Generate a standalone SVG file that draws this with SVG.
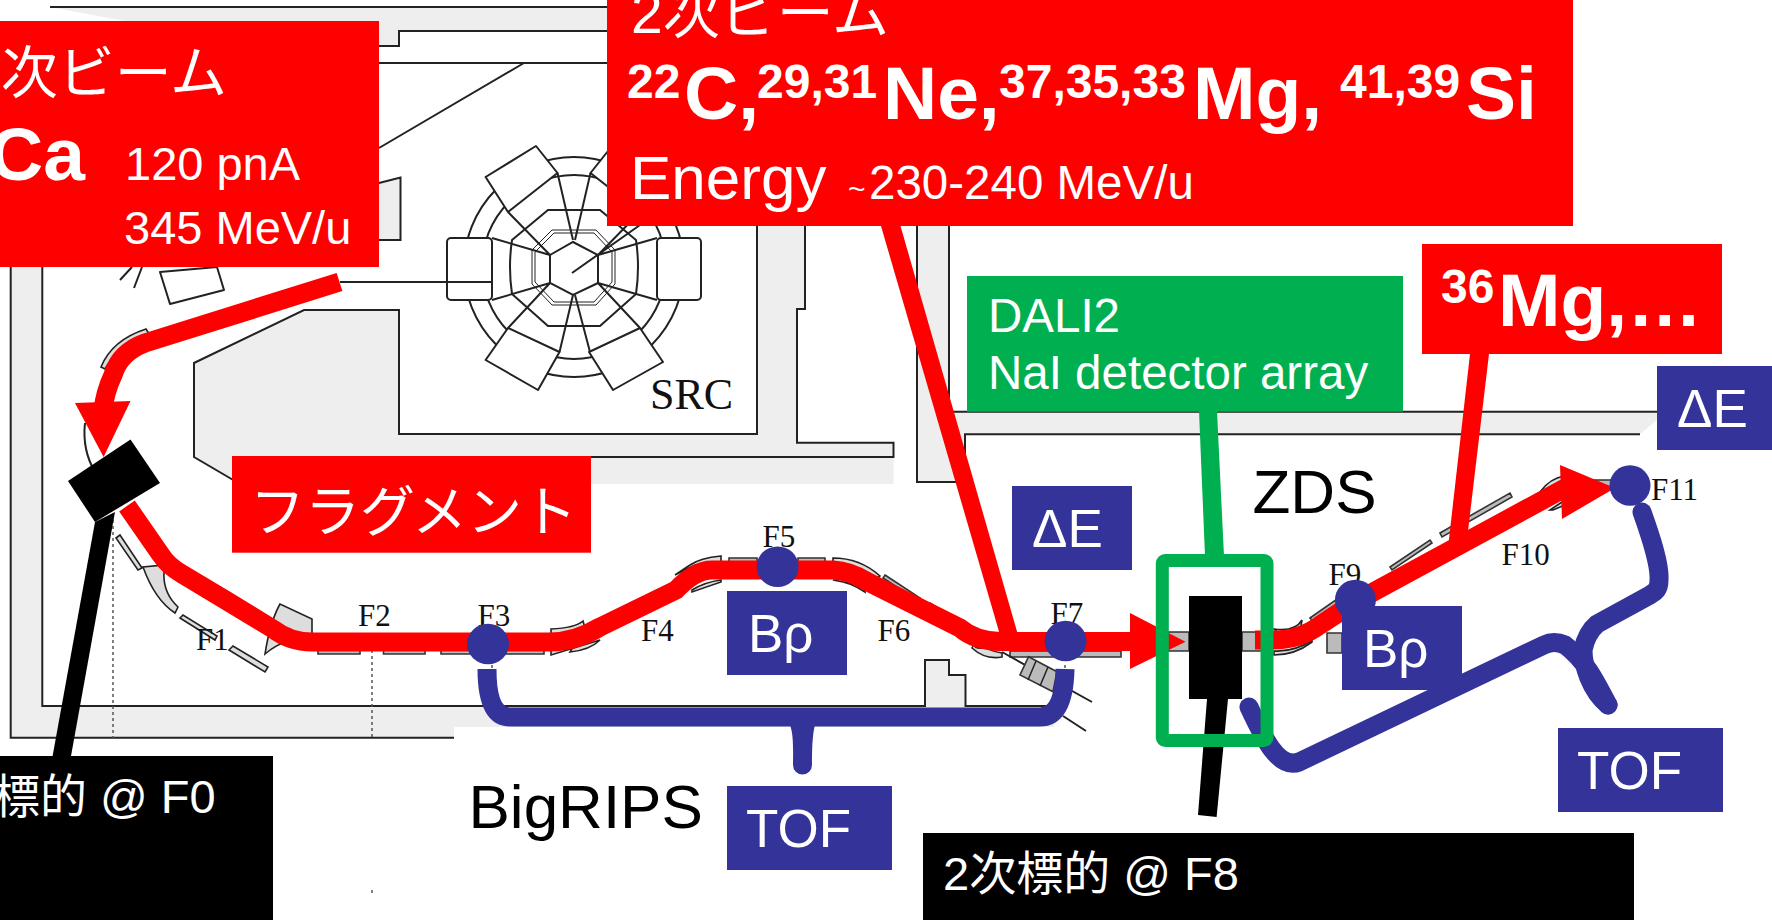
<svg xmlns="http://www.w3.org/2000/svg" width="1772" height="920" viewBox="0 0 1772 920">
<style>
.w{fill:none;stroke:#222;stroke-width:2;stroke-linejoin:miter}
.g{fill:#eee;stroke:none}
.a{fill:#fff;stroke:#222;stroke-width:2;stroke-linejoin:round}
.t{fill:none;stroke:#222;stroke-width:2}
.m{fill:#ddd;stroke:#222;stroke-width:1.6}
.q{fill:#bbb;stroke:#333;stroke-width:1.6}
.d{fill:none;stroke:#555;stroke-width:1.5;stroke-dasharray:3 3}
.r{fill:#f00}
.bl{fill:#339}
.s{font-family:"Liberation Sans",Arial,"Noto Sans CJK JP",sans-serif;fill:#fff}
.k{font-family:"Liberation Sans",Arial,"Noto Sans CJK JP",sans-serif;fill:#000}
.b{font-weight:700}
.f{font-family:"Liberation Serif","Times New Roman",serif;fill:#111;font-size:31px}
.rl{fill:none;stroke:#f00;stroke-width:19}
.bc{fill:none;stroke:#339;stroke-width:19}
</style>
<rect width="1772" height="920" fill="#fff"/>
<g id="plan">
<polygon class="g" points="50,7 607,7 607,31 399,31 399,46 379,46 379,21 125,21"/>
<path class="w" d="M50,7H620M379,46H399V31H620M379,63H620M379,148L524,63"/>
<polygon class="g" points="379,183 400.500,177.500 400.500,240 379,240"/>
<path class="w" d="M379,183L400.500,177.500V240H379"/>
<polygon class="g" points="757,220 757,434 399,434 399,310 304,310 194,363 194,457 240,484 893.500,484 893.500,442.700 797,442.700 797,309 805,309 805,220"/>
<path class="w" d="M757,220V434H399V310H304L194,363V457L240,484M590,457H893.500V442.700H797V309H805V220"/>
<polygon class="g" points="917,220 949,220 949,411.700 1657,411.700 1657,420 1640,434.300 965,434.300 965,482 917,482"/>
<path class="w" d="M917,220V482H960M949,220V411.700H1657M1640,434.300H965V482"/>
<polygon class="g" points="10.700,260 42.300,260 42.300,706 925,706 925,660 949,660 949,675 965.500,675 965.500,706 1054,706 1054,727 454,727 454,737.700 10.700,737.700"/>
<path class="w" d="M10.700,260V737.700H454M42.300,260V706H925V660H949V675H965.500V706H1054"/>
<path class="d" d="M113,520V740M372,650V740M372,890V894M492,665V672M1065,665V672"/>
<text class="f" x="650" y="409" style="font-size:44px">SRC</text>
</g>
<g id="src-ring">
<ellipse class="t" cx="574" cy="267" rx="110" ry="110"/>
<ellipse class="t" cx="574" cy="267" rx="92" ry="92"/>
<path class="t" d="M548,210H600L636,240Q640,267 636,294L600,326H548L512,294Q508,267 512,240Z"/>
<path class="t" stroke-width="1" style="stroke-width:1" d="M552,230H596L615,250V284L596,305H552L532,284V250Z"/>
<path class="t" style="stroke-width:1" d="M554,233H594L612,252V282L594,302H554L535,282V252Z"/>
<path class="t" d="M550,255L573,242L598,255V283L573,295L550,283Z"/>
<path class="t" d="M550,255L492,238M550,283L492,300M573,240L557.500,173M550,255L508,212M573,295L559.500,352M550,283L508,328M575,240L590.500,173M598,255L640,212M575,295L590,352M598,283L640,328M598,255L657,238M598,283L657,300M572,273L640,225M340,282H490"/>
<rect class="a" x="447" y="238" width="45" height="62" rx="4"/>
<rect class="a" x="657" y="238" width="44" height="62" rx="4"/>
<polygon class="a" points="485.600,177 536,146 557.500,173 508,212"/>
<polygon class="a" points="485.600,360 508,328 559.500,352 538,390"/>
<polygon class="a" points="589,352 640,328 663,362 613,390"/>
<polygon class="a" points="662,177 612,146 590.500,173 640,212"/>
<path class="t" d="M447,282H492"/>
<polygon class="a" points="160,272 170,304 224,290 217,267"/>
<path class="t" d="M132,267L120,280M142,267L134,288"/>
</g>
<g id="beamline">
<path class="m" d="M146,329Q112,340 101,367L105,369Q118,345 150,335Z"/>
<path class="t" d="M85,423Q82,450 95,472"/>
<path class="m" d="M120,535L142,568L138,570L116,538ZM143,567Q155,600 175,613L178,607Q160,590 165,565ZM180,618L215,640L217,636L183,615ZM229,650L265,672L268,667L233,646Z"/>
<path class="m" d="M265,672Q285,655 312,655V637L280,622Q270,640 265,672Z" transform="translate(0,-18)"/>
<path class="q" d="M318,649H360V654H318ZM383.500,649H425V654H383.500ZM441,649H470V654H441ZM506,649H544V654H506Z"/>
<path class="m" d="M551,629Q575,628 583,621L585,628L570,652Q590,650 600,640L551,655Z"/>
<path class="m" d="M675,575L690,565Q700,558 721,556V562L695,565ZM692,590Q705,582 721,580V582L692,592Z"/>
<path class="q" d="M729,558H757V563H729ZM798,558H825V563H798Z"/>
<path class="m" d="M833,558Q860,558 880,576L877,578Q860,565 833,564ZM833,580Q850,582 865,592L864,586Z"/>
<path class="q" d="M885,575L920,598L917,600L883,578ZM930,603L965,625L962,628L928,606Z"/>
<path class="m" d="M972,648Q985,660 1002,657V653Q985,650 975,642Z"/>
<path class="t" d="M975,647Q990,652 1000,632"/>
<path class="q" d="M1010,651H1121V657H1010Z"/>
<path class="t" d="M1002,652L1092,702M1063,716L1086,731"/>
<polygon class="q" points="1028.600,656.700 1057,671.700 1053,691.700 1020,675"/>
<path class="t" style="stroke-width:1.500" d="M1036,661L1028,680M1048,667L1040,686"/>
<path class="q" d="M1168,632H1189V651H1168ZM1242,632H1262V651H1242Z"/>
<path class="m" d="M1274,629Q1295,632 1302,620L1300,632L1285,640ZM1274,651Q1295,652 1312,640V642Q1295,655 1274,655Z"/>
<path class="q" d="M1327,633H1342V653H1327Z"/>
<path class="q" d="M1310,618L1350,590V594L1314,622ZM1390,567L1430,540L1432,543L1392,570ZM1440,533L1510,493L1512,497L1442,537Z"/>
<path class="m" d="M1540,492Q1550,478 1565,476V482Q1555,485 1548,492ZM1550,510L1565,500V505L1553,510Z"/>
<path class="q" d="M1580,480H1612V490H1580Z"/>
</g>
<g id="focal-labels">
<text class="f" x="196" y="650">F1</text>
<text class="f" x="358" y="626">F2</text>
<text class="f" x="477.600" y="626">F3</text>
<text class="f" x="641" y="641">F4</text>
<text class="f" x="762.600" y="547">F5</text>
<text class="f" x="877.500" y="641">F6</text>
<text class="f" x="1050.400" y="624">F7</text>
<text class="f" x="1328.500" y="585">F9</text>
<text class="f" x="1501.600" y="565">F10</text>
<text class="f" x="1651" y="500">F11</text>
<text class="k" x="468.500" y="827.700" font-size="62">BigRIPS</text>
<text class="k" x="1252.500" y="512.700" font-size="62">ZDS</text>
</g>
<g id="connectors">
<path class="rl" d="M127,506L161,555Q168,566 182,574L227,601L273,629Q290,642 312,642H550Q575,642 600,627L676,590Q695,570 712,570H833Q850,571 866,581L960,628Q975,641 1000,641.500H1135"/>
<path class="rl" d="M1255,640H1273Q1300,640 1320,625L1355,602L1565,488"/>
<path class="rl" d="M339.500,282L145,343Q120,352 113,375Q105,392 103,410"/>
<polygon class="r" points="75,403 130.500,401 103.600,457"/>
<polygon class="r" points="881,226 900.500,226 1018,635 1000,635"/>
<polygon class="r" points="1470,354 1489,354 1467.500,535 1448,548"/>
<polygon class="r" points="1130,613 1130,669 1185.500,641.700"/>
<polygon class="r" points="1560,465 1562,519 1615,488"/>
<path class="bc" d="M487,669Q487,717 510,717H1040Q1064,717 1065,669"/>
<path fill="#339" d="M790,725C794,735 793,755 793,765A9.500,9.500 0 0 0 812,765C812,755 812,735 815,725Z"/>
<path class="bc" d="M1249,707C1262,735 1278,770 1299,762L1544,645Q1554,640 1565,645C1585,660 1595,680 1608,705" stroke-linecap="round"/>
<path class="bc" d="M1642,512C1652,540 1660,565 1659,580C1659,590 1655,592 1650,595L1597,624C1590,630 1585,640 1583,650C1583,665 1590,690 1608,705" stroke-linecap="round"/>
<polygon points="1207,699 1228,699 1216.600,817 1198,815" fill="#000"/>
<polygon points="95,522 115,512 71,756 52.600,756" fill="#000"/>
<polygon points="1199,411 1217,411 1224,556 1205,556" fill="#00b050"/>
</g>
<g id="target-f0"><polygon points="68,481 130.500,439.500 160,483 95,522" fill="#000"/></g>
<g id="target-f8"><rect x="1189" y="596" width="53" height="103" fill="#000"/></g>
<g id="frame-dali"><rect x="1162.300" y="560.500" width="104.700" height="180" rx="3" fill="none" stroke="#00b050" stroke-width="13" stroke-linejoin="round"/></g>
<g id="dots">
<ellipse class="bl" cx="488" cy="644" rx="21" ry="20.300"/>
<ellipse class="bl" cx="777.600" cy="566.700" rx="21" ry="20.300"/>
<ellipse class="bl" cx="1065.600" cy="641" rx="21" ry="20.300"/>
<ellipse class="bl" cx="1355.400" cy="600" rx="20.500" ry="20.300"/>
<ellipse class="bl" cx="1630" cy="485.500" rx="20.500" ry="20.300"/>
</g>
<g id="primary-beam">
<rect class="r" x="-2" y="21" width="381" height="246"/>
<text class="s" x="-31" y="93" font-size="57">1次ビーム</text>
<text class="s b" x="-11" y="180" font-size="75">Ca</text>
<text class="s" x="125" y="180" font-size="47">120 pnA</text>
<text class="s" x="124" y="244" font-size="47">345 MeV/u</text>
</g>
<g id="secondary-beam">
<rect class="r" x="607" y="-2" width="966" height="228"/>
<text class="s" x="631" y="33" font-size="57">2次ビーム</text>
<text class="s b" y="119" font-size="75"><tspan x="627" y="98" font-size="48">22</tspan><tspan x="684" y="119">C,</tspan><tspan x="757" y="98" font-size="48">29,31</tspan><tspan x="883" y="119">Ne,</tspan><tspan x="999" y="98" font-size="48">37,35,33</tspan><tspan x="1193" y="119">Mg,</tspan><tspan x="1340" y="98" font-size="48">41,39</tspan><tspan x="1466" y="119">Si</tspan></text>
<text class="s" x="630" y="199" font-size="62">Energy</text>
<text class="s" x="848" y="199" font-size="30">~</text>
<text class="s" x="869" y="199" font-size="47.500">230-240 MeV/u</text>
</g>
<g id="fragment"><rect class="r" x="232" y="456" width="359" height="96.700"/>
<text class="s" y="531" font-size="55"><tspan x="250">フラグ</tspan><tspan x="412">メント</tspan></text></g>
<g id="dali"><rect x="967" y="276" width="436" height="135.700" fill="#00b050"/>
<text class="s" x="988" y="331.700" font-size="47.500">DALI2</text>
<text class="s" x="988" y="389" font-size="47.500">NaI detector array</text></g>
<g id="isotope"><rect class="r" x="1422" y="244" width="300" height="110"/>
<text class="s b"><tspan x="1441" y="303" font-size="48">36</tspan><tspan x="1498" y="326" font-size="75">Mg,…</tspan></text></g>
<g id="de-1"><rect class="bl" x="1012" y="486" width="120" height="84"/><text class="s" x="1032" y="547" font-size="53">ΔE</text></g>
<g id="de-2"><rect class="bl" x="1657" y="366" width="117" height="84"/><text class="s" x="1677" y="427" font-size="53">ΔE</text></g>
<g id="brho-1"><rect class="bl" x="727" y="591" width="120" height="84"/><text class="s" x="748" y="652" font-size="53">Bρ</text></g>
<g id="brho-2"><rect class="bl" x="1342" y="606" width="120" height="84"/><text class="s" x="1363" y="667" font-size="53">Bρ</text></g>
<g id="tof-1"><rect class="bl" x="727" y="786" width="165" height="84"/><text class="s" x="746" y="847" font-size="53">TOF</text></g>
<g id="tof-2"><rect class="bl" x="1558" y="728" width="165" height="84"/><text class="s" x="1577" y="789" font-size="53">TOF</text></g>
<g id="target-label-1"><rect x="-2" y="756" width="275" height="166" fill="#000"/>
<text class="s" x="-7" y="813" font-size="47">標的 @ F0</text></g>
<g id="target-label-2"><rect x="923" y="833" width="711" height="89" fill="#000"/>
<text class="s" x="943" y="890" font-size="47">2次標的 @ F8</text></g>
</svg>
